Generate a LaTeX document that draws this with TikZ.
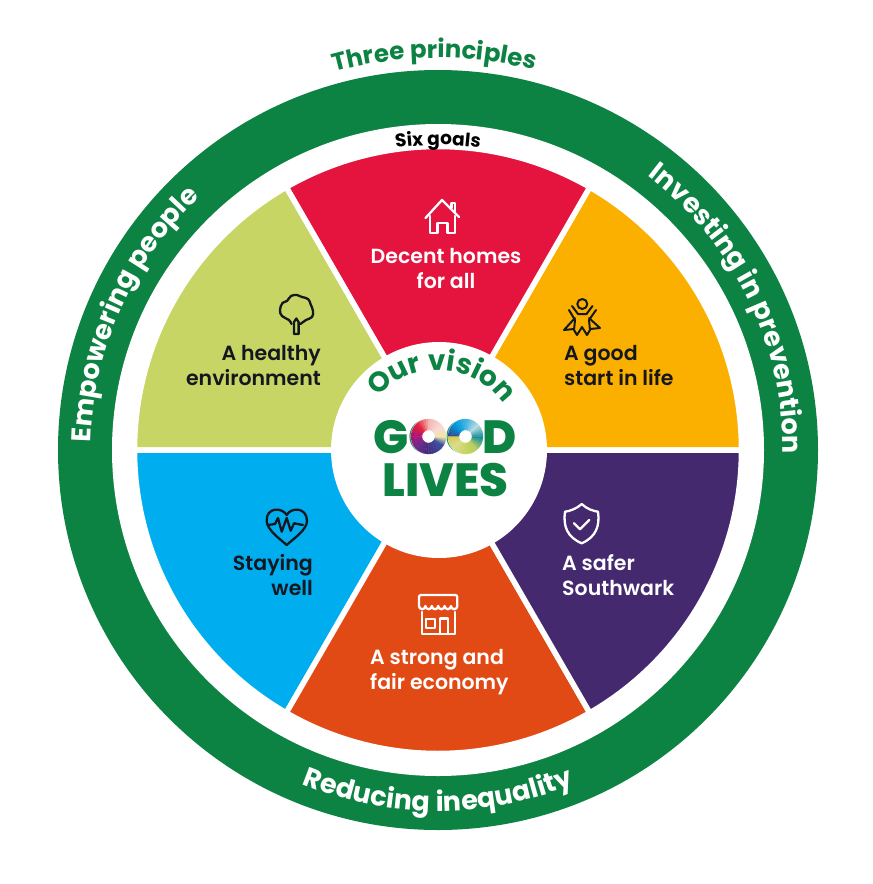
\documentclass[tikz,border=0pt]{standalone}
\usepackage{fontspec}
\usepackage{xcolor}
\usetikzlibrary{decorations.text, calc}
\setmainfont{Poppins}
\newfontfamily\goalfont{Poppins SemiBold}
\newfontfamily\goodface{Poppins ExtraBold}
\newcommand{\labelfont}{\goalfont\fontsize{20.5}{25}\selectfont}
\newcommand{\ringfont}{\bfseries\fontsize{27}{27}\selectfont}
\newcommand{\topfont}{\bfseries\fontsize{24.5}{25}\selectfont}
\newcommand{\visionfont}{\bfseries\fontsize{28}{28}\selectfont}
\newcommand{\smallgoalfont}{\bfseries\fontsize{18.5}{18}\selectfont}
\newcommand{\goodfont}{\goodface\fontsize{46.5}{48}\selectfont}
\definecolor{ringgreen}{HTML}{0C8342}
\definecolor{goalred}{HTML}{E5143E}
\definecolor{goalyellow}{HTML}{FBB000}
\definecolor{goalpurple}{HTML}{45296F}
\definecolor{goalorange}{HTML}{E14A15}
\definecolor{goalblue}{HTML}{00AEEF}
\definecolor{goallime}{HTML}{C6D563}
\definecolor{inkdark}{HTML}{15171F}
% logo ring colours
\definecolor{loa}{HTML}{F3E6A0}
\definecolor{lob}{HTML}{3B4FA0}
\definecolor{loc}{HTML}{452A7C}
\definecolor{lod}{HTML}{6E2A8E}
\definecolor{loe}{HTML}{B01070}
\definecolor{lof}{HTML}{E5233C}
\definecolor{log}{HTML}{F4B8B0}
\definecolor{loh}{HTML}{F8D8D8}
\definecolor{lta}{HTML}{2F4C9A}
\definecolor{ltb}{HTML}{0098DC}
\definecolor{ltc}{HTML}{40B4E0}
\definecolor{ltd}{HTML}{B8DCE0}
\definecolor{lte}{HTML}{128C9C}
\definecolor{ltf}{HTML}{B8CF60}
\definecolor{ltg}{HTML}{C8D560}
\definecolor{lth}{HTML}{DCDC90}
\definecolor{lti}{HTML}{D2C83C}
\tikzset{
  goalsector/.style={draw=white, line width=5.5pt, line join=miter},
  goaltext/.style={font=\labelfont, inner sep=0pt},
  icon/.style={line width=2.3pt, line join=round, line cap=round},
  ringtext/.style n args={2}{decorate, decoration={text along path, text align=center, text color=#1, text={#2}}},
}
% one coloured ring of the logo: centre, then angle/angle/colour/colour stops
\newcommand{\goodring}[2]{%
  \foreach \a/\b/\ca/\cb in {#2} {
    \foreach \t in {0,20,40,60,80} {
      \pgfmathsetmacro{\from}{\a+(\b-\a)*\t/100}
      \pgfmathsetmacro{\upto}{\a+(\b-\a)*(\t+20)/100}
      \colorlet{wedgecol}{\cb!\t!\ca}
      \fill[wedgecol, draw=wedgecol, line width=.2pt] (#1) ++(\from:17.5) arc (\from:\upto:17.5)
        -- ($(#1)+(\upto:6.5)$) arc (\upto:\from:6.5) -- cycle;
    }
  }
}

\begin{document}
\begin{tikzpicture}[x=1pt, y=1pt]
  \useasboundingbox[fill=white] (0,0) rectangle (873,-884);
  \coordinate (hub) at (438,-450);

  \begin{scope}[shift={(hub)}]
    \fill[ringgreen] (0,0) circle (380);
    \fill[white] (0,0) circle (326);
    % the six goals
    \foreach \a/\c in {0/goalyellow, 60/goalred, 120/goallime, 180/goalblue, 240/goalorange, 300/goalpurple} {
      \filldraw[fill=\c, goalsector] (0,0) -- (\a:303.5) arc (\a:\a+60:303.5) -- cycle;
    }
    \fill[white] (1,0) circle (108);

    \path[ringtext={ringgreen}{|\topfont|Three principles}] (115:392) arc (115:66:392);
    \path[ringtext={white}{|\ringfont|Investing in prevention}] (65:345) arc (65:-13:345);
    \path[ringtext={white}{|\ringfont|Empowering people}] (195:347) arc (195:117:347);
    \path[ringtext={white}{|\ringfont|Reducing inequality}] (235:361) arc (235:305:361);
    \path[ringtext={black}{|\smallgoalfont|Six goals}] (100:305) arc (100:80:305);
    \path[ringtext={ringgreen}{|\visionfont|Our vision}] (157:80) arc (157:17:80);
  \end{scope}

  \node[goaltext, text=white, align=center] (homes) at (446,-269) {Decent homes\\for all};
  \node[goaltext, text=inkdark, align=left, anchor=west] (start) at (564,-366) {A good\\start in life};
  \node[goaltext, text=white, align=left, anchor=west] (safer) at (562,-575) {A safer\\Southwark};
  \node[goaltext, text=white, align=left, anchor=west] (economy) at (370,-672) {A strong and\\fair economy};
  \node[goaltext, text=inkdark, align=right, anchor=east] (well) at (313,-575) {Staying\\well};
  \node[goaltext, text=inkdark, align=right, anchor=east] (healthy) at (321,-366) {A healthy\\environment};

  \node[font=\goodfont, text=ringgreen, inner sep=0pt] (good) at (445,-437) {GOOD};
  \node[font=\goodfont, text=ringgreen, inner sep=0pt] (lives) at (445.5,-480) {LIVES};
  \fill[white] (428.5,-436.5) circle (18) (465.5,-436.5) circle (18);
  \goodring{428.5,-436.5}{0/-30/loa/lob, -30/-90/lob/loc, -90/-135/loc/lod, -135/-180/lod/loe,
    180/135/loe/lof, 135/90/lof/log, 90/45/log/loh, 45/0/loh/loa}
  \goodring{465.5,-436.5}{180/135/lta/ltb, 135/90/ltb/ltc, 90/45/ltc/ltd, 45/0/ltd/lte,
    0/-45/lte/ltf, -45/-90/ltf/ltg, -90/-135/ltg/lth, -135/-180/lth/lti}

  % house
  \draw[icon, white] (425.5,-218) -- (442,-200) -- (459,-217);
  \draw[icon, white] (451.5,-208) -- (451.5,-203) -- (455,-203) -- (455,-212);
  \draw[icon, white] (430,-216) -- (430,-233) -- (437.5,-233) -- (437.5,-223) -- (447.5,-223) -- (447.5,-233) -- (455,-233) -- (455,-216);
  % tree
  \draw[icon, inkdark] plot[smooth, tension=.7] coordinates {(291.5,-324) (289,-320) (282,-316) (280,-310) (282.5,-303) (287,-301) (291,-296) (297,-295) (302,-297) (308,-299) (310.5,-304) (313,-311) (312,-317) (306,-320) (300.5,-324)};
  \draw[icon, inkdark] (294,-334) -- (294,-322) -- (296.3,-318.5) -- (298.6,-322) -- (298.6,-334) -- cycle;
  % child with cape
  \draw[icon, inkdark, line width=2pt] (582.3,-304) circle (5);
  \draw[icon, inkdark, line width=2pt] (572,-306) -- (578,-314) -- (586.5,-314) -- (592.5,-306);
  \draw[icon, inkdark, line width=2pt] (569,-310) -- (575,-320) -- (574,-330) -- (577,-335) -- (582,-327) -- (587,-335) -- (590,-330) -- (589,-320) -- (596,-310);
  \draw[icon, inkdark, line width=2pt] (575,-318) -- (564,-330) -- (574,-329);
  \draw[icon, inkdark, line width=2pt] (589,-318) -- (600,-328) -- (590,-329);
  % heart with pulse
  \draw[icon, inkdark] (286.7,-515) .. controls (282,-507) and (266,-507) .. (266.7,-521) .. controls (267,-530) and (280,-539) .. (286.7,-545) .. controls (293,-539) and (307,-530) .. (307,-521) .. controls (307,-507) and (291,-507) .. (286.7,-515) -- cycle;
  \draw[icon, inkdark] (268,-525) -- (275,-524) -- (278,-518) -- (281.7,-531.7) -- (286.7,-518) -- (290.7,-530.7) -- (294,-523.3) -- (303,-525);
  % shop
  \draw[icon, white, rounded corners=2pt] (419,-606) -- (419,-595) -- (457.3,-595) -- (457.3,-606);
  \draw[icon, white] (419,-606) arc (180:360:3.2) arc (180:360:3.2) arc (180:360:3.2) arc (180:360:3.2) arc (180:360:3.2) arc (180:360:3.2);
  \draw[icon, white] (421.7,-612) -- (421.7,-634) -- (455,-634) -- (455,-612);
  \draw[icon, white] (440,-634) -- (440,-618.5) -- (448.3,-618.5) -- (448.3,-634);
  \draw[icon, white] (426,-619.3) rectangle (435,-628.3);
  % shield
  \draw[icon, white] (581.7,-504) .. controls (576,-509) and (570,-511) .. (565,-511.7) .. controls (563,-526) and (567,-537) .. (581.7,-543.3) .. controls (596,-537) and (600,-526) .. (598,-511.7) .. controls (593,-511) and (587,-509) .. (581.7,-504) -- cycle;
  \draw[icon, white] (574,-523.3) -- (580,-529.3) -- (589.3,-520);
\end{tikzpicture}
\end{document}
